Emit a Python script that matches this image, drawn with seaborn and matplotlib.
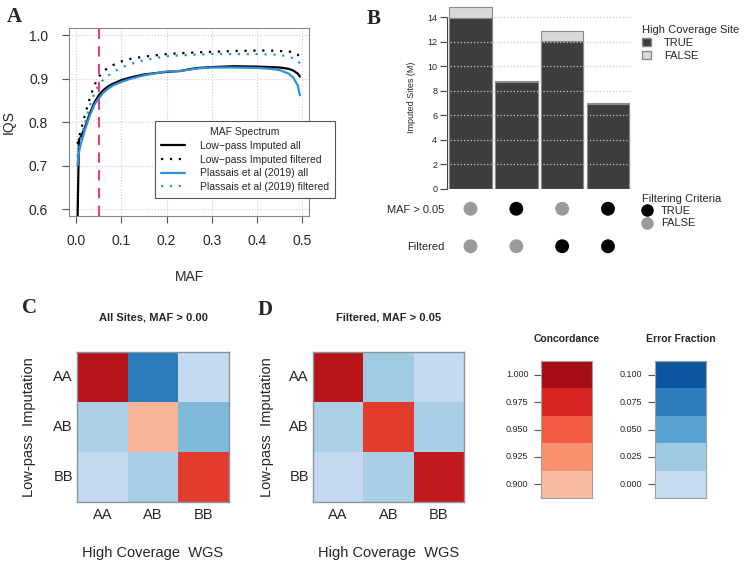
import numpy as np
import pandas as pd
import seaborn as sns
import matplotlib.pyplot as plt
from matplotlib.colors import LinearSegmentedColormap
from matplotlib.patches import Patch
from matplotlib.lines import Line2D

sns.set_style('ticks')
plt.rcParams['font.family'] = ['Liberation Sans', 'DejaVu Sans']

W, H = 749, 565

# ---- Panel A: IQS across the MAF spectrum ----
maf = [0.003, 0.006, 0.01, 0.02, 0.03, 0.04, 0.05, 0.06, 0.07, 0.08, 0.10, 0.12, 0.15,
       0.20, 0.23, 0.25, 0.27, 0.30, 0.35, 0.40, 0.43, 0.45, 0.47, 0.48, 0.49, 0.495]
iqs_lp_all = [0.58, 0.76, 0.765, 0.79, 0.82, 0.845, 0.862, 0.874, 0.882, 0.888, 0.897, 0.903, 0.910,
              0.916, 0.918, 0.922, 0.925, 0.927, 0.929, 0.928, 0.927, 0.926, 0.923, 0.919, 0.912, 0.905]
iqs_lp_filt = [0.75, 0.765, 0.78, 0.82, 0.855, 0.885, 0.905, 0.917, 0.925, 0.931, 0.940, 0.946, 0.951,
               0.957, 0.959, 0.960, 0.961, 0.962, 0.964, 0.965, 0.965, 0.964, 0.963, 0.961, 0.956, 0.948]
iqs_pl_all = [0.70, 0.73, 0.75, 0.785, 0.815, 0.84, 0.855, 0.868, 0.877, 0.884, 0.893, 0.900, 0.908,
              0.917, 0.918, 0.921, 0.924, 0.926, 0.926, 0.925, 0.923, 0.920, 0.912, 0.903, 0.885, 0.862]
iqs_pl_filt = [0.72, 0.745, 0.76, 0.80, 0.838, 0.866, 0.886, 0.898, 0.907, 0.914, 0.926, 0.934, 0.943,
               0.952, 0.954, 0.955, 0.956, 0.957, 0.957, 0.957, 0.956, 0.955, 0.951, 0.947, 0.942, 0.935]
series_names = ['Low\u2212pass Imputed all', 'Low\u2212pass Imputed filtered',
                'Plassais et al (2019) all', 'Plassais et al (2019) filtered']
maf_cutoff = 0.05

# ---- Panel B: imputed sites ----
groups = ['1', '2', '3', '4']
sites_hc_true = [13.9, 8.75, 12.05, 6.97]
sites_hc_false = [0.95, 0.02, 0.85, 0.05]
crit_names = ['MAF > 0.05', 'Filtered']
crit_maf = ['FALSE', 'TRUE', 'FALSE', 'TRUE']
crit_filtered = ['FALSE', 'FALSE', 'TRUE', 'TRUE']

# ---- Panels C/D: genotype concordance ----
genotypes = ['AA', 'AB', 'BB']
conc_all = [0.992, 0.905, 0.964]
conc_filt = [0.991, 0.964, 0.986]
err_all = [[np.nan, 0.075, 0.001], [0.0165, np.nan, 0.036], [0.001, 0.0195, np.nan]]
err_filt = [[np.nan, 0.024, 0.001], [0.0165, np.nan, 0.0195], [0.001, 0.018, np.nan]]
conc_ticks = [1.000, 0.975, 0.950, 0.925, 0.900]
err_ticks = [0.100, 0.075, 0.050, 0.025, 0.000]

reds = LinearSegmentedColormap.from_list('conc', ['#f8bca3', '#f8906e', '#f15a40', '#d82420', '#a50d17'])
blues = LinearSegmentedColormap.from_list('err', ['#c6dbf0', '#9dcae1', '#5aa2d0', '#2b7cbb', '#0b559f'])


def box(x0, y0, x1, y1):
    return [x0 / W, 1 - y1 / H, (x1 - x0) / W, (y1 - y0) / H]


fig = plt.figure(figsize=(W / 100, H / 100), dpi=100)
letter = dict(family='Liberation Serif', fontweight='bold', fontsize=15)
fig.text(7 / W, 1 - 22 / H, 'A', **letter)
fig.text(367 / W, 1 - 24 / H, 'B', **letter)
fig.text(22 / W, 1 - 313 / H, 'C', **letter)
fig.text(258 / W, 1 - 315 / H, 'D', **letter)

# Panel A
axA = fig.add_axes(box(69, 28, 309, 216))
iqs_df = pd.concat([pd.DataFrame({'MAF': maf, 'IQS': v, 'series': n})
                    for n, v in zip(series_names, [iqs_lp_all, iqs_lp_filt, iqs_pl_all, iqs_pl_filt])])
palette = dict(zip(series_names, ['black', 'black', '#2f8fdd', '#2f8fdd']))
dashes = dict(zip(series_names, [(), (1, 3), (), (1, 3)]))
sns.lineplot(data=iqs_df, x='MAF', y='IQS', hue='series', style='series', hue_order=series_names,
             style_order=series_names, palette=palette, dashes=dashes, linewidth=1.6,
             sort=False, estimator=None, legend=False, ax=axA)
handles = list(axA.lines[:4])
axA.axvline(maf_cutoff, color='#e8436a', lw=1.5, dashes=(5, 3.5))
axA.set_xlim(-0.016, 0.515)
axA.set_ylim(0.584, 1.017)
axA.set_xticks([0.0, 0.1, 0.2, 0.3, 0.4, 0.5])
axA.set_xticklabels(['0.0', '0.1', '0.2', '0.3', '0.4', '0.5'])
axA.set_yticks([0.6, 0.7, 0.8, 0.9, 1.0])
axA.set_yticklabels(['0.6', '0.7', '0.8', '0.9', '1.0'])
axA.grid(True, ls=':', color='#cccccc', lw=0.8)
axA.tick_params(length=5, width=0.8, color='#555555', pad=10, labelsize=10)
axA.tick_params(axis='x', pad=8)
for s in axA.spines.values():
    s.set_color('#888888')
    s.set_linewidth(0.8)
axA.set_xlabel('MAF', fontsize=10)
axA.set_ylabel('IQS', fontsize=10)
axA.xaxis.set_label_coords(0.5, -(270 - 216) / 188)
axA.yaxis.set_label_coords(-(69 - 16) / 240, 0.5)
legA = fig.legend(handles, series_names, title='MAF Spectrum', loc='upper left',
                  bbox_to_anchor=(155 / W, 1 - 121 / H), borderaxespad=0, fancybox=False,
                  framealpha=1, edgecolor='#555555', fontsize=7.5, title_fontsize=7.5,
                  handlelength=2.3, handletextpad=1.4, labelspacing=0.35, borderpad=0.6)
legA.get_frame().set_linewidth(0.8)

# Panel B bars
axB = fig.add_axes(box(447, 5, 633, 189))
totals = [t + f for t, f in zip(sites_hc_true, sites_hc_false)]
sns.barplot(x=groups, y=totals, color='#d9d9d9', saturation=1, width=0.93,
            edgecolor='#8a8a8a', linewidth=0.8, ax=axB)
sns.barplot(x=groups, y=sites_hc_true, color='#3d3d3f', saturation=1, width=0.93,
            edgecolor='#8a8a8a', linewidth=0.8, ax=axB)
axB.set_xlim(-0.513, 3.546)
axB.set_ylim(0, 15)
axB.set_yticks(range(0, 15, 2))
axB.yaxis.grid(True, ls=':', color='#c8c8c8', lw=0.9)
axB.set_axisbelow(False)
sns.despine(ax=axB, bottom=True)
axB.spines['left'].set_bounds(0, 14)
axB.spines['left'].set_color('#444444')
axB.spines['left'].set_linewidth(0.8)
axB.set_xticks([])
axB.tick_params(axis='y', length=5, width=0.8, color='#444444', pad=2, labelsize=6.5)
axB.set_ylabel('Imputed Sites (M)', fontsize=6.5, labelpad=8)

# Panel B criteria matrix
axM = fig.add_axes(box(447, 190, 633, 265))
crit_df = pd.DataFrame({'pos': list(range(len(groups))) * 2,
                        'row': [0] * len(groups) + [1] * len(groups),
                        'flag': crit_maf + crit_filtered})
sns.scatterplot(data=crit_df, x='pos', y='row', hue='flag',
                palette={'TRUE': 'black', 'FALSE': '#9a9a9a'}, s=100, linewidth=0,
                legend=False, ax=axM)
axM.set_xlim(-0.513, 3.546)
axM.set_ylim(1.5, -0.5)
axM.set_yticks([0, 1])
axM.set_yticklabels(crit_names)
axM.set_xticks([])
axM.set_xlabel('')
axM.set_ylabel('')
axM.tick_params(axis='y', length=0, pad=2, labelsize=8)
for s in axM.spines.values():
    s.set_visible(False)

legHC = fig.legend([Patch(facecolor='#3d3d3f', edgecolor='#8a8a8a'),
                    Patch(facecolor='#d9d9d9', edgecolor='#8a8a8a')], ['TRUE', 'FALSE'],
                   title='High Coverage Site', loc='upper left', bbox_to_anchor=(642 / W, 1 - 25 / H),
                   frameon=False, fontsize=8, title_fontsize=8, alignment='left',
                   handlelength=0.8, handleheight=0.8, handletextpad=1.2, labelspacing=0.25,
                   borderaxespad=0, borderpad=0)
legFC = fig.legend([Line2D([], [], ls='', marker='o', ms=8, color='black'),
                    Line2D([], [], ls='', marker='o', ms=8, color='#9a9a9a')], ['TRUE', 'FALSE'],
                   title='Filtering Criteria', loc='upper left', bbox_to_anchor=(642 / W, 1 - 194 / H),
                   frameon=False, fontsize=8, title_fontsize=8, alignment='left',
                   handlelength=0.9, handletextpad=0.8, labelspacing=0.2,
                   borderaxespad=0, borderpad=0)


# Panels C and D
def concordance_map(ax, conc, err, title, ylab_x):
    conc_m = pd.DataFrame(np.diag(conc), index=genotypes, columns=genotypes)
    err_m = pd.DataFrame(err, index=genotypes, columns=genotypes)
    diag_mask = np.eye(3, dtype=bool)
    sns.heatmap(conc_m, mask=~diag_mask, cmap=reds, vmin=0.9, vmax=1.0, cbar=False, ax=ax)
    sns.heatmap(err_m, mask=diag_mask, cmap=blues, vmin=0.0, vmax=0.1, cbar=False, ax=ax)
    for s in ax.spines.values():
        s.set_visible(True)
        s.set_color('#8a949e')
        s.set_linewidth(1.0)
    ax.tick_params(length=0, labelsize=10.5)
    ax.tick_params(axis='x', pad=4)
    ax.tick_params(axis='y', pad=3)
    plt.setp(ax.get_yticklabels(), rotation=0)
    ax.set_xlabel('')
    ax.set_ylabel('')
    ax.text(0.5, 1.233, title, transform=ax.transAxes, ha='center', va='center',
            fontsize=8, fontweight='bold')
    ax.text(0.5, -0.34, 'High Coverage  WGS', transform=ax.transAxes, ha='center', va='center',
            fontsize=10.5)
    ax.text(ylab_x, 0.5, 'Low-pass  Imputation', transform=ax.transAxes, ha='center', va='center',
            rotation=90, fontsize=10.5)


axC = fig.add_axes(box(77, 352, 229, 502))
concordance_map(axC, conc_all, err_all, 'All Sites, MAF > 0.00', -0.316)
axD = fig.add_axes(box(313, 352, 464, 502))
concordance_map(axD, conc_filt, err_filt, 'Filtered, MAF > 0.05', -0.305)


# colour keys
def colour_key(ax, ticks, cmap, vmin, vmax, title, fmt):
    key = pd.DataFrame({'v': ticks})
    sns.heatmap(key, cmap=cmap, vmin=vmin, vmax=vmax, cbar=False, xticklabels=False,
                yticklabels=[fmt.format(t) for t in ticks], ax=ax)
    for s in ax.spines.values():
        s.set_visible(True)
        s.set_color('#a0a0a0')
        s.set_linewidth(0.8)
    ax.tick_params(axis='y', length=5, width=0.8, color='#555555', pad=4, labelsize=6.5)
    plt.setp(ax.get_yticklabels(), rotation=0)
    ax.set_ylabel('')
    ax.text(0.5, 1 + 22 / 137, title, transform=ax.transAxes, ha='center', va='center',
            fontsize=7.5, fontweight='bold')


axK1 = fig.add_axes(box(541, 361, 592, 498))
colour_key(axK1, conc_ticks, reds, 0.9, 1.0, 'Concordance', '{:.3f}')
axK2 = fig.add_axes(box(655, 361, 706, 498))
colour_key(axK2, err_ticks, blues, 0.0, 0.1, 'Error Fraction', '{:.3f}')

fig.savefig('out.png', dpi=100)
